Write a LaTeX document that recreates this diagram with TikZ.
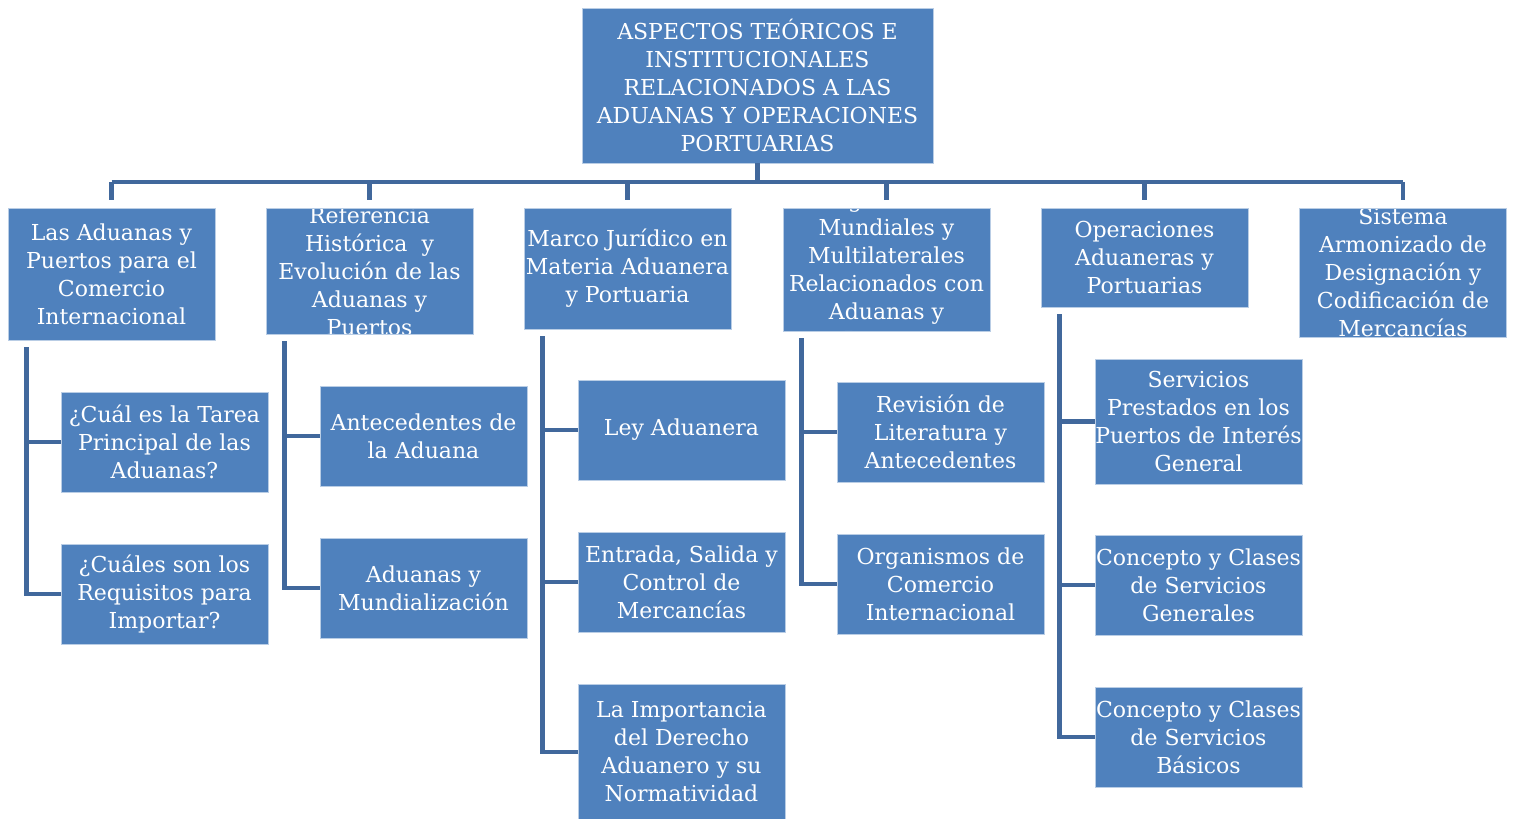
\documentclass[tikz,border=0pt]{standalone}
\usepackage{fontspec}
\setmainfont{DejaVu Serif}
\definecolor{boxblue}{HTML}{4F81BD}
\definecolor{linkblue}{HTML}{41689C}
\tikzset{
  box/.style={draw=white!60!boxblue,line width=0.6pt,fill=boxblue,text=white,align=center,
    inner sep=0pt,minimum width=155.25pt,font=\fontsize{16.5}{21}\selectfont},
  txt/.style={text=white,align=center,inner sep=0pt,font=\fontsize{16.5}{21}\selectfont},
  conn/.style={draw=linkblue,line width=3.6pt}
}
\begin{document}
\begin{tikzpicture}[x=0.75pt,y=-0.75pt]
  \useasboundingbox (0,0) rectangle (1516,818);

  % raiz
  \node[box,minimum width=263.25pt,minimum height=116.25pt] (top) at (757.5,85.5)
    {ASPECTOS TEÓRICOS E\\INSTITUCIONALES\\RELACIONADOS A LAS\\ADUANAS Y OPERACIONES\\PORTUARIAS};
  \coordinate (bar) at (757.5,182);

  % primer nivel
  \node[box,minimum height=99pt] (aduanas) at (111.5,274)
    {Las Aduanas y\\Puertos para el\\Comercio\\Internacional};
  \node[box,minimum height=94.5pt,path picture={\node[txt] at (path picture bounding box.center)
    {Referencia\\Histórica\ \ y\\Evolución de las\\Aduanas y\\Puertos};}] (historia) at (369.5,271) {};
  \node[box,minimum height=90.75pt] (marco) at (627.5,268.5)
    {Marco Jurídico en\\Materia Aduanera\\y Portuaria};
  \node[box,minimum height=92.25pt,path picture={\node[txt] at (path picture bounding box.center)
    {Organismos\\Mundiales y\\Multilaterales\\Relacionados con\\Aduanas y\\Puertos};}] (organismos) at (886.5,269.5) {};
  \node[box,minimum height=74.25pt] (operaciones) at (1144.5,257.5)
    {Operaciones\\Aduaneras y\\Portuarias};
  \node[box,minimum height=96.75pt,path picture={\node[txt] at (path picture bounding box.center)
    {Sistema\\Armonizado de\\Designación y\\Codificación de\\Mercancías};}] (sistema) at (1403,272.5) {};

  % segundo nivel
  \node[box,minimum height=75pt] (tarea) at (164.5,442)
    {¿Cuál es la Tarea\\Principal de las\\Aduanas?};
  \node[box,minimum height=75pt] (requisitos) at (164.5,594)
    {¿Cuáles son los\\Requisitos para\\Importar?};
  \node[box,minimum height=75pt] (antecedentes) at (423.5,436)
    {Antecedentes de\\la Aduana};
  \node[box,minimum height=75pt] (mundial) at (423.5,588)
    {Aduanas y\\Mundialización};
  \node[box,minimum height=75pt] (ley) at (681.5,430)
    {Ley Aduanera};
  \node[box,minimum height=75pt] (entrada) at (681.5,582)
    {Entrada, Salida y\\Control de\\Mercancías};
  \node[box,minimum height=101.25pt] (derecho) at (681.5,752)
    {La Importancia\\del Derecho\\Aduanero y su\\Normatividad};
  \node[box,minimum height=75pt] (revision) at (940.5,432)
    {Revisión de\\Literatura y\\Antecedentes};
  \node[box,minimum height=75pt] (comercio) at (940.5,584)
    {Organismos de\\Comercio\\Internacional};
  \node[box,minimum height=93.75pt] (servicios) at (1198.5,421.5)
    {Servicios\\Prestados en los\\Puertos de Interés\\General};
  \node[box,minimum height=75pt] (generales) at (1198.5,585)
    {Concepto y Clases\\de Servicios\\Generales};
  \node[box,minimum height=75pt] (basicos) at (1198.5,737)
    {Concepto y Clases\\de Servicios\\Básicos};

  % conexiones
  \draw[conn] (top.south) -- (bar);
  \draw[conn] (aduanas.north |- bar) -- (sistema.north |- bar);
  \foreach \b in {aduanas,historia,marco,organismos,operaciones,sistema}
    \draw[conn] (\b.north |- bar) -- ([yshift=6pt]\b.north);

  \draw[conn] ([shift={(18.5,7)}]aduanas.south west) |- (tarea.west);
  \draw[conn] ([shift={(18.5,7)}]aduanas.south west) |- (requisitos.west);
  \draw[conn] ([shift={(18.5,7)}]historia.south west) |- (antecedentes.west);
  \draw[conn] ([shift={(18.5,7)}]historia.south west) |- (mundial.west);
  \draw[conn] ([shift={(18.5,7)}]marco.south west) |- (ley.west);
  \draw[conn] ([shift={(18.5,7)}]marco.south west) |- (entrada.west);
  \draw[conn] ([shift={(18.5,7)}]marco.south west) |- (derecho.west);
  \draw[conn] ([shift={(18.5,7)}]organismos.south west) |- (revision.west);
  \draw[conn] ([shift={(18.5,7)}]organismos.south west) |- (comercio.west);
  \draw[conn] ([shift={(18.5,7)}]operaciones.south west) |- (servicios.west);
  \draw[conn] ([shift={(18.5,7)}]operaciones.south west) |- (generales.west);
  \draw[conn] ([shift={(18.5,7)}]operaciones.south west) |- (basicos.west);
\end{tikzpicture}
\end{document}
